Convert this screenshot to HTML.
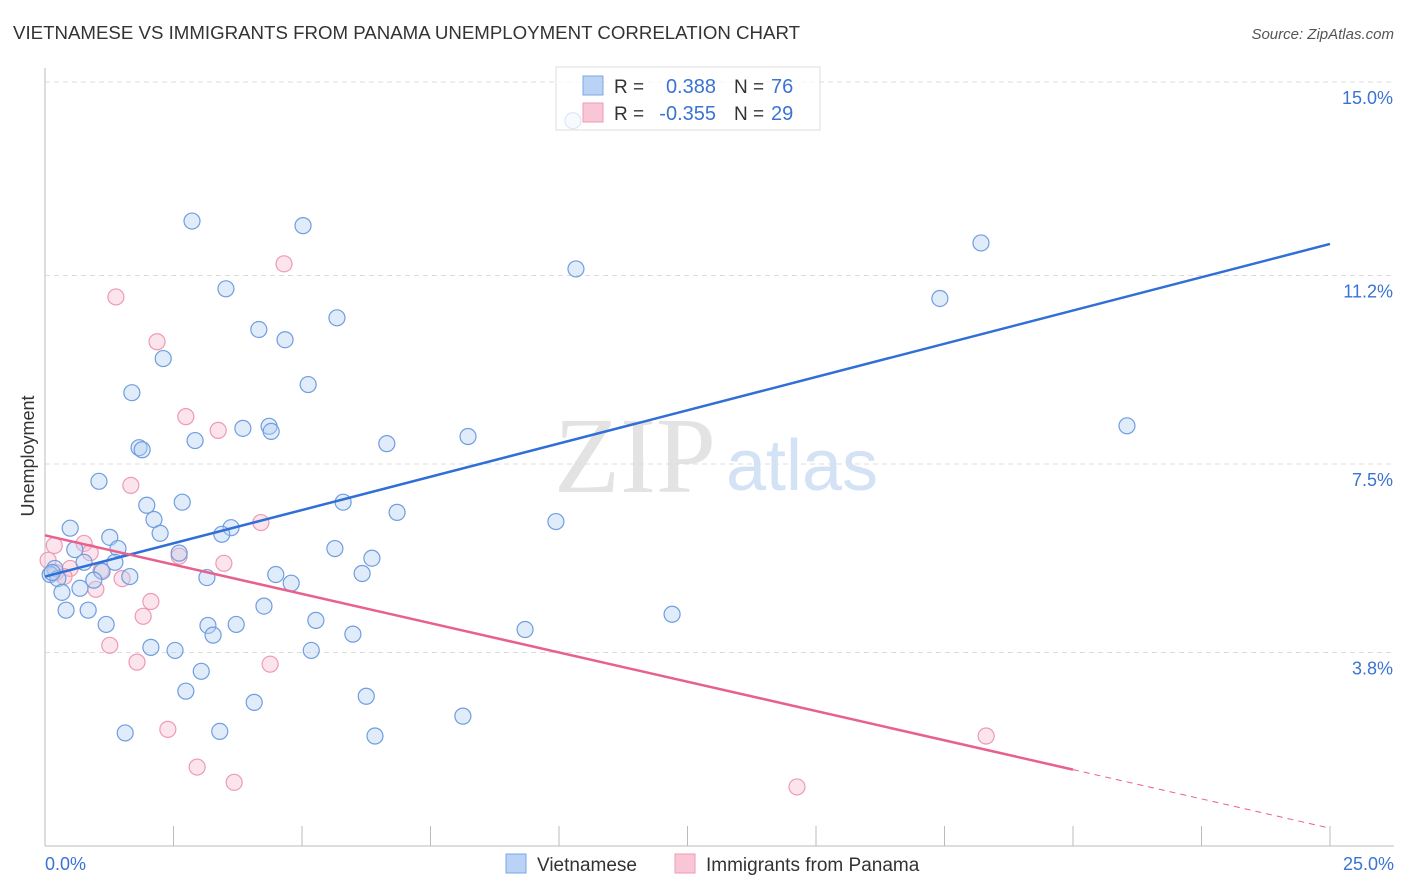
<!DOCTYPE html>
<html><head><meta charset="utf-8"><style>
body{margin:0;background:#fff;font-family:"Liberation Sans",sans-serif;}
svg{display:block}
</style></head><body>
<svg id="chart" width="1406" height="892" xmlns="http://www.w3.org/2000/svg">
<text x="13" y="39" font-size="18" fill="#333" textLength="787" lengthAdjust="spacingAndGlyphs">VIETNAMESE VS IMMIGRANTS FROM PANAMA UNEMPLOYMENT CORRELATION CHART</text>
<text x="1394" y="39" font-size="15" fill="#555" font-style="italic" text-anchor="end">Source: ZipAtlas.com</text>
<g>
<text x="635" y="492" font-size="108" font-family="Liberation Serif,serif" fill="#e3e3e3" text-anchor="middle">ZIP</text>
<text x="802" y="490" font-size="72" fill="#d4e2f5" text-anchor="middle">atlas</text>
</g>
<g id="grid"></g>
<g id="axes"></g>
<g id="points"></g>
<g id="lines"></g>
<text x="34" y="456" font-size="18" fill="#333" text-anchor="middle" transform="rotate(-90 34 456)">Unemployment</text>
<g>
<rect x="556" y="67" width="264" height="63" fill="#fff" fill-opacity="0.75" stroke="#ddd"/>
<rect x="583" y="76" width="20" height="19" fill="#b9d2f5" stroke="#7ba7e6"/>
<rect x="583" y="103" width="20" height="19" fill="#f9c6d6" stroke="#ee9ab4"/>
<text x="614" y="93" font-size="19" fill="#333">R = </text><text x="716" y="93" font-size="20" fill="#3a73d4" text-anchor="end">0.388</text>
<text x="734" y="93" font-size="19" fill="#333">N = </text><text x="771" y="93" font-size="20" fill="#3a73d4">76</text>
<text x="614" y="120" font-size="19" fill="#333">R = </text><text x="716" y="120" font-size="20" fill="#3a73d4" text-anchor="end">-0.355</text>
<text x="734" y="120" font-size="19" fill="#333">N = </text><text x="771" y="120" font-size="20" fill="#3a73d4">29</text>
</g>
<g>
<rect x="506" y="854" width="20" height="19" fill="#b9d2f5" stroke="#7ba7e6"/>
<text x="537" y="871" font-size="19" fill="#333">Vietnamese</text>
<rect x="675" y="854" width="20" height="19" fill="#f9c6d6" stroke="#ee9ab4"/>
<text x="706" y="871" font-size="19" fill="#333">Immigrants from Panama</text>
</g>
</svg>
<script>
const blueX=[10.27,2.86,5.02,10.33,18.21,3.52,17.41,5.68,4.16,4.67,2.30,5.12,1.69,21.05,3.85,4.36,4.40,1.83,1.89,2.92,6.65,8.23,1.05,2.67,1.98,5.80,6.85,2.12,0.49,9.94,2.24,3.62,3.44,1.26,1.42,0.58,5.64,2.61,6.36,0.76,1.36,1.11,1.65,0.19,0.10,0.25,0.95,3.15,4.49,4.79,6.17,0.68,0.33,0.41,0.84,4.26,5.27,1.19,3.17,3.72,3.27,5.99,9.34,12.20,2.06,2.53,5.18,3.04,2.74,6.25,4.07,8.13,3.40,1.56,6.42,0.14];
const blueY=[14.24,12.27,12.18,11.33,11.84,10.94,10.75,10.37,10.14,9.94,9.57,9.06,8.90,8.25,8.20,8.24,8.14,7.82,7.78,7.96,7.90,8.04,7.16,6.75,6.69,6.75,6.55,6.41,6.24,6.37,6.14,6.25,6.12,6.06,5.84,5.82,5.84,5.75,5.65,5.57,5.57,5.39,5.29,5.45,5.33,5.25,5.22,5.27,5.33,5.16,5.35,5.06,4.98,4.63,4.63,4.71,4.43,4.35,4.33,4.35,4.14,4.16,4.25,4.55,3.90,3.84,3.84,3.43,3.04,2.94,2.82,2.55,2.25,2.22,2.16,5.37];
const pinkX=[1.38,4.65,2.18,2.74,3.37,1.67,4.20,0.18,0.76,0.88,2.61,3.48,0.49,0.21,0.37,1.09,1.50,0.99,2.06,1.91,1.26,1.79,4.38,2.39,2.96,3.68,14.63,18.31,0.06];
const pinkY=[10.78,11.43,9.90,8.43,8.16,7.08,6.35,5.90,5.94,5.76,5.69,5.55,5.45,5.37,5.29,5.41,5.25,5.04,4.80,4.51,3.94,3.61,3.57,2.29,1.55,1.25,1.16,2.16,5.61];
const blueTrend=[5.29,11.82];   // values at x=0 and x=25
const pinkTrend=[6.10,0.35];
const yTicks=[3.8,7.5,11.2,15.0];
const yTickLabels=["3.8%","7.5%","11.2%","15.0%"];
const xTickCount=10;

const X0=45,X1=1330,Y0=846;
const sx=v=>X0+(X1-X0)*v/25;
const sy=v=>Y0-v*191/3.75;
const NS="http://www.w3.org/2000/svg";
function mk(tag,attrs,parent){const e=document.createElementNS(NS,tag);for(const k in attrs)e.setAttribute(k,attrs[k]);document.getElementById(parent).appendChild(e);return e;}

yTicks.forEach((t,i)=>{
 const g=mk('line',{x1:X0,x2:1394,y1:sy(t),y2:sy(t),stroke:'#ddd','stroke-dasharray':'5,4'},'grid');
 
 
 const l=mk('text',{x:1393,y:sy(t)+22,'font-size':18,fill:'#3a73d4','text-anchor':'end'},'axes');
 l.textContent=yTickLabels[i];
 
 
});
const ax=mk('line',{x1:X0,x2:X0,y1:68,y2:Y0,stroke:'#bbb'},'axes');


const bx=mk('line',{x1:X0,x2:1394,y1:Y0,y2:Y0,stroke:'#bbb'},'axes');


for(let i=1;i<=xTickCount;i++){
 const t=mk('line',{x1:sx(i*2.5),x2:sx(i*2.5),y1:826,y2:Y0,stroke:'#bbb'},'axes');
 
 
}
const xl=mk('text',{x:45,y:870,'font-size':18,fill:'#3a73d4'},'axes');xl.textContent='0.0%';


const xr=mk('text',{x:1394,y:870,'font-size':18,fill:'#3a73d4','text-anchor':'end'},'axes');xr.textContent='25.0%';



pinkX.forEach((v,i)=>{
 const c=mk('circle',{cx:sx(v),cy:sy(pinkY[i]),r:8,fill:'#f7bcd0','fill-opacity':0.4,stroke:'#ee9ab4','stroke-width':1.2},'points');
 
 
});
blueX.forEach((v,i)=>{
 const c=mk('circle',{cx:sx(v),cy:sy(blueY[i]),r:8,fill:'#b5cff3','fill-opacity':0.4,stroke:'#6f9de0','stroke-width':1.2},'points');
 
 
});
const bl=mk('line',{x1:sx(0),y1:sy(blueTrend[0]),x2:sx(25),y2:sy(blueTrend[1]),stroke:'#2f6fd6','stroke-width':2.5},'lines');


const pe=pinkTrend[0]+(pinkTrend[1]-pinkTrend[0])*20/25;
const pl=mk('line',{x1:sx(0),y1:sy(pinkTrend[0]),x2:sx(20),y2:sy(pe),stroke:'#e8608e','stroke-width':2.5},'lines');


const pd=mk('line',{x1:sx(20),y1:sy(pe),x2:sx(25),y2:sy(pinkTrend[1]),stroke:'#e8608e','stroke-width':1,'stroke-dasharray':'6,5'},'lines');


</script>
</body></html>
